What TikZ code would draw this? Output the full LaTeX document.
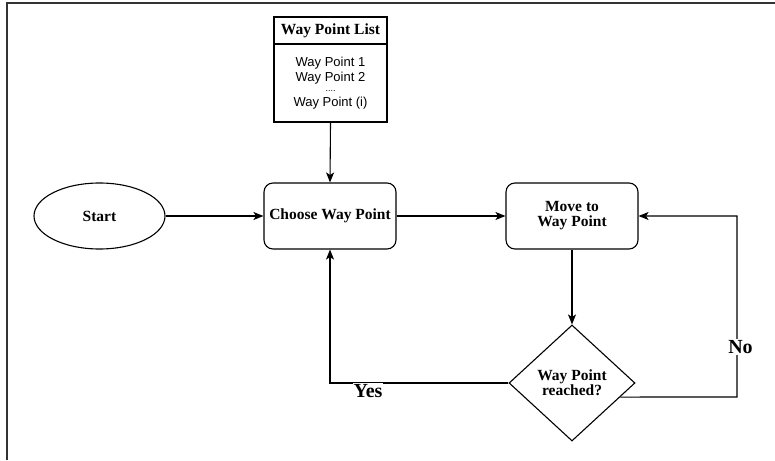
\documentclass[tikz,border=0pt]{standalone}
\usepackage{fontspec}
\setmainfont{Liberation Serif}
\newfontfamily\listfont{Liberation Sans}
\usetikzlibrary{shapes.geometric,arrows.meta,calc}
\begin{document}
\begin{tikzpicture}[x=1pt,y=-1pt,
  line width=1.1pt,
  every node/.style={font=\fontsize{15.5}{15}\selectfont\bfseries},
  flow/.style={-{Stealth[length=10pt,width=8pt,inset=2.5pt]}},
  procbox/.style={draw,rounded corners=9pt,minimum width=132pt,minimum height=66pt,inner sep=2pt,align=center},
  startnode/.style={draw,ellipse,minimum width=131pt,minimum height=66pt,inner sep=0pt},
  decision/.style={draw,diamond,minimum width=126pt,minimum height=116pt,inner sep=0pt,align=center},
  branchlabel/.style={fill=white,inner sep=1pt,font=\fontsize{20}{20}\selectfont\bfseries},
  listcell/.style={draw,minimum width=113pt,inner sep=0pt,align=center}]
\useasboundingbox (0,0) rectangle (775,460);
% page frame (top and left edges only)
\draw[line width=2pt,black!80] (7,460) -- (7,3) -- (775,3);

% way point list
\node[listcell,minimum height=27pt] (listhead) at (330.5,30.5) {Way Point List};
\node[listcell,minimum height=78pt,font=\listfont\fontsize{13}{15}\selectfont] (listbody) at (330.5,83)
  {Way Point 1\\Way Point 2\\[-3pt]{\fontsize{9}{9}\selectfont\raisebox{2pt}{....}}\\[-2pt]Way Point (i)};

% flow nodes
\node[startnode] (start) at (99.5,216) {Start};
\node[procbox] (choose) at (330,216) {Choose Way Point};
\node[procbox] (move) at (572,216) {Move to\\Way Point};
\node[decision] (reached) at (572,383) {Way Point\\reached?};

% connectors
\draw[flow] (listbody.south) -- (choose.north);
\draw[flow] (start.east) -- (choose.west);
\draw[flow] (choose.east) -- (move.west);
\draw[flow] (move.south) -- (reached.north);
\coordinate (yescorner) at (330,383);
\draw[flow] (reached.west) -- (yescorner) -- (choose.south);
\coordinate (noexit) at ($(reached.east)!0.24!(reached.south)$);
\coordinate (nocorner1) at (737,397);
\coordinate (nocorner2) at (737,216);
\draw[flow] (noexit) -- (nocorner1) -- (nocorner2) -- (move.east);

% branch labels
\node[branchlabel] (yeslabel) at (368,391) {Yes};
\node[branchlabel] (nolabel) at (740.5,347) {No};
\end{tikzpicture}
\end{document}
